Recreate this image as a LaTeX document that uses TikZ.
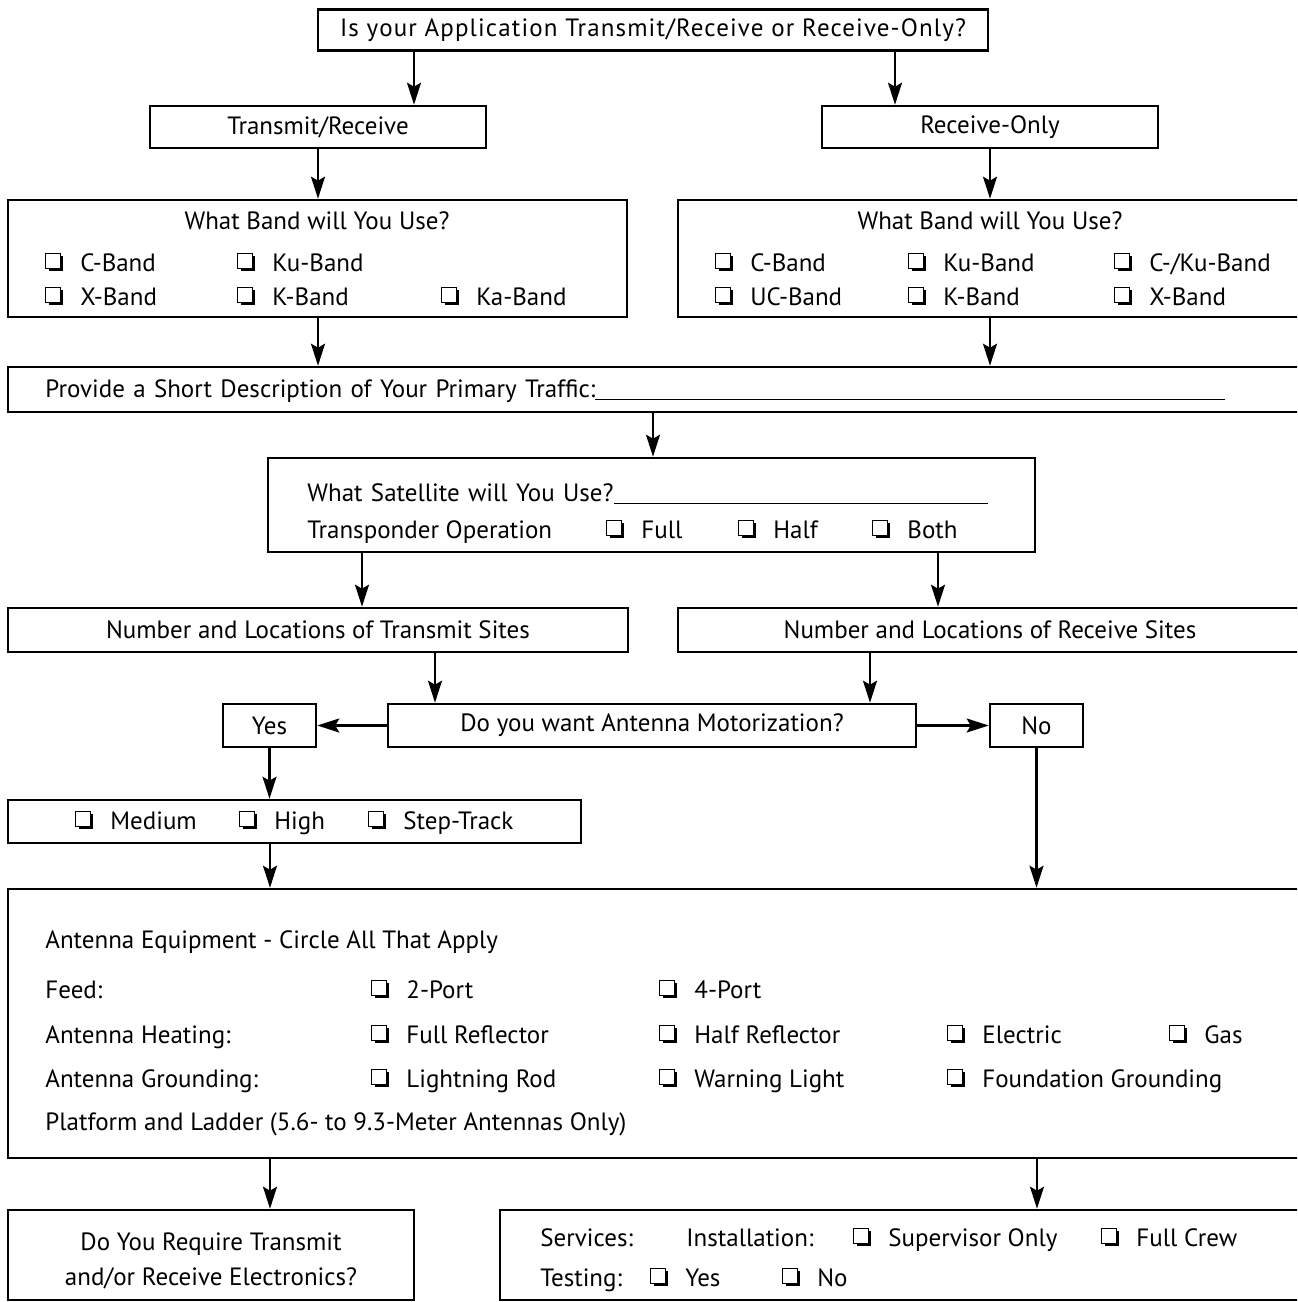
\documentclass[tikz,border=0pt]{standalone}
\usepackage{fontspec}
\setmainfont{PT Sans}
\usetikzlibrary{arrows.meta}
% shadowed check box
\newcommand{\cbglyph}{{\setlength{\unitlength}{1pt}\linethickness{0.5pt}\begin{picture}(8.3,8.2)
  \put(0,1.3){\framebox(7,7){}}\put(7,0){\rule{1.3pt}{7.3pt}}\put(1.2,0){\rule{7.1pt}{1.3pt}}\end{picture}}}
\newcommand{\cb}{\makebox[17pt][l]{\cbglyph}}
\newcommand{\blank}{\leavevmode\leaders\hrule height -1pt depth 1.6pt\hfill\kern0pt}
\tikzset{
  box/.style 2 args={draw, line width=1.3pt, inner sep=0pt, minimum width=#1, minimum height=#2},
  item/.style={anchor=base west, inner sep=0pt},
  arr/.style={line width=1.1pt, -{Stealth[length=11pt, width=7pt, inset=2pt]}}
}
\begin{document}
\begin{tikzpicture}[x=0.5pt, y=-0.5pt, font=\fontsize{12.5}{17.5}\selectfont]
\useasboundingbox (0,0) rectangle (1297,1302);
\clip (0,0) rectangle (1297,1302);
% boxes
\node[box={335pt}{20.5pt}] (top) at (653,30) {\addfontfeature{LetterSpace=4.5}Is your Application Transmit/Receive or Receive-Only?};
\node[box={168pt}{21pt}] (tr) at (318,127) {Transmit/Receive};
\node[box={168pt}{21pt}] (ro) at (990,127) {Receive-Only};
\node[box={309.5pt}{58.5pt}] (bandL) at (317.5,258.5) {};
\node[box={316pt}{58.5pt}] (bandR) at (994,258.5) {};
\node[box={651pt}{22.5pt}] (traffic) at (659,389.5) {};
\node[box={383.5pt}{47pt}] (sat) at (651.5,505) {};
\node[box={310pt}{22pt}] (txs) at (318,630) {Number and Locations of Transmit Sites};
\node[box={316pt}{22pt}] (rxs) at (994,630) {\hspace{-4pt}Number and Locations of Receive Sites};
\node[box={264pt}{21.5pt}] (motor) at (652,725.5) {Do you want Antenna Motorization?};
\node[box={46.5pt}{21.5pt}] (yes) at (269.5,725.5) {Yes};
\node[box={46.5pt}{21.5pt}] (no) at (1036.5,725.5) {No};
\node[box={286.5pt}{21.5pt}] (speed) at (294.5,821.5) {};
\node[box={651pt}{134.5pt}] (equip) at (659,1023.5) {};
\node[box={203pt}{45pt}] (elec) at (211,1255) {};
\node[box={405pt}{45pt}] (serv) at (905,1255) {};
\node[align=center, inner sep=0pt] (elect) at (211,1261) {Do You Require Transmit\\and/or Receive Electronics?};
% band choices
\node (bandLt) at (317,221) {What Band will You Use?};
\node (bandRt) at (990,221) {What Band will You Use?};
\foreach \x/\y/\t [count=\i] in {80/271/C-Band, 272/271/Ku-Band, 80/305/X-Band, 272/305/K-Band, 476/305/Ka-Band,
    750/271/C-Band, 943/271/Ku-Band, 1149/271/{C-/Ku-Band}, 750/305/UC-Band, 943/305/K-Band, 1149/305/X-Band}
  \node[item] (band\i) at (\x-34,\y) {\cb\t};
% traffic and satellite
\node[item, text width=590pt] (trafft) at (45,397) {Provide a Short Description of Your Primary Traffic:\blank};
\node[item, text width=340.5pt] (satt) at (307,501) {What Satellite will You Use?\blank};
\node[item] (tpt) at (307,538) {Transponder Operation};
\foreach \x/\t [count=\i] in {641/Full, 773/Half, 907/Both}
  \node[item] (tp\i) at (\x-34,538) {\cb\t};
% motorization speed
\foreach \x/\t [count=\i] in {110/Medium, 274/High, 403/Step-Track}
  \node[item] (sp\i) at (\x-34,829) {\cb\t};
% antenna equipment
\node[item] (eqt) at (45,948) {Antenna Equipment - Circle All That Apply};
\node[item] (feed) at (45,998) {Feed:};
\node[item] (heat) at (45,1043) {Antenna Heating:};
\node[item] (grnd) at (45,1087) {Antenna Grounding:};
\node[item] (plat) at (45,1130) {Platform and Ladder (5.6- to 9.3-Meter Antennas Only)};
\foreach \x/\y/\t [count=\i] in {406/998/2-Port, 694/998/4-Port,
    406/1043/Full Reflector, 694/1043/Half Reflector, 982/1043/Electric, 1204/1043/Gas,
    406/1087/Lightning Rod, 694/1087/Warning Light, 982/1087/Foundation Grounding}
  \node[item] (eq\i) at (\x-34,\y) {\cb\t};
% services
\node[item] (servt) at (540,1246) {Services:};
\node[item] (inst) at (686,1246) {Installation:};
\node[item] (test) at (540,1286) {Testing:};
\foreach \x/\y/\t [count=\i] in {888/1246/Supervisor Only, 1136/1246/Full Crew, 685/1286/Yes, 817/1286/No}
  \node[item] (sv\i) at (\x-34,\y) {\cb\t};
% connectors
\draw[arr] (top.south -| 414,0) -- (tr.north -| 414,0);
\draw[arr] (top.south -| 895,0) -- (ro.north -| 895,0);
\draw[arr] (tr.south) -- (tr.south |- bandL.north);
\draw[arr] (ro.south) -- (ro.south |- bandR.north);
\draw[arr] (bandL.south -| 318,0) -- (traffic.north -| 318,0);
\draw[arr] (bandR.south -| 990,0) -- (traffic.north -| 990,0);
\draw[arr] (traffic.south -| 653,0) -- (sat.north -| 653,0);
\draw[arr] (sat.south -| 362,0) -- (txs.north -| 362,0);
\draw[arr] (sat.south -| 938,0) -- (rxs.north -| 938,0);
\draw[arr] (txs.south -| 435,0) -- (motor.north -| 435,0);
\draw[arr] (rxs.south -| 870,0) -- (motor.north -| 870,0);
\draw[arr] (motor.west) -- (yes.east);
\draw[arr] (motor.east) -- (no.west);
\draw[arr] (yes.south) -- (yes.south |- speed.north);
\draw[arr] (speed.south -| 270,0) -- (equip.north -| 270,0);
\draw[arr] (no.south) -- (no.south |- equip.north);
\draw[arr] (equip.south -| 270,0) -- (elec.north -| 270,0);
\draw[arr] (equip.south -| 1037,0) -- (serv.north -| 1037,0);
\end{tikzpicture}
\end{document}
